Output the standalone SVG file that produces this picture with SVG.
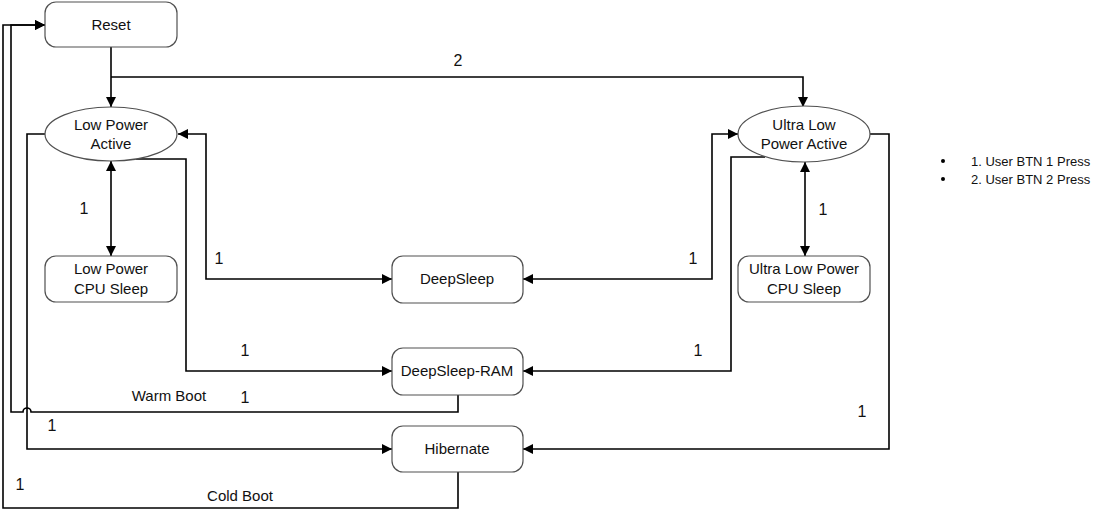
<svg xmlns="http://www.w3.org/2000/svg" width="1097" height="514" viewBox="0 0 1097 514">
<defs>
<style>
.node{fill:#fff;stroke:#505050;stroke-width:1.2}
.t{font-family:"Liberation Sans",Arial,sans-serif;font-size:15px;fill:#111;text-anchor:middle}
.lbl{font-family:"Liberation Sans",Arial,sans-serif;font-size:16px;fill:#111;text-anchor:middle}
.leg{font-family:"Liberation Sans",Arial,sans-serif;font-size:13px;fill:#111}
.c{fill:none;stroke:#000;stroke-width:1.6}
</style>
<marker id="arr" viewBox="0 0 10 10" refX="10" refY="5" markerWidth="11" markerHeight="10" markerUnits="userSpaceOnUse" orient="auto-start-reverse">
<path d="M0,0 L10,5 L0,10 z" fill="#000"/>
</marker>
</defs>
<rect width="1097" height="514" fill="#fff"/>
<g id="connectors">
<path class="c" d="M111,47 V107" marker-end="url(#arr)"/>
<path class="c" d="M111,77 H803 V107" marker-end="url(#arr)"/>
<path class="c" d="M111,161 V256" marker-start="url(#arr)" marker-end="url(#arr)"/>
<path class="c" d="M805,162 V256" marker-start="url(#arr)" marker-end="url(#arr)"/>
<path class="c" d="M178,134 H206 V279 H392" marker-start="url(#arr)" marker-end="url(#arr)"/>
<path class="c" d="M523,279 H712 V134 H738" marker-start="url(#arr)" marker-end="url(#arr)"/>
<path class="c" d="M136,159 H186 V371 H392" marker-end="url(#arr)"/>
<path class="c" d="M765,157 H731 V371 H523" marker-end="url(#arr)"/>
<path class="c" d="M45,134 H27 V449 H392" marker-end="url(#arr)"/>
<path class="c" d="M870,134 H889 V449 H523" marker-end="url(#arr)"/>
<path class="c" d="M458,395 V412 H31 A4,4 0 0 0 23,412 H11 V25 H45" marker-end="url(#arr)"/>
<path class="c" d="M458,472 V508 H3 V25 H45" marker-end="url(#arr)"/>
<text class="lbl" x="458" y="66">2</text>
<text class="lbl" x="84" y="214">1</text>
<text class="lbl" x="823" y="215">1</text>
<text class="lbl" x="219" y="264">1</text>
<text class="lbl" x="693" y="264">1</text>
<text class="lbl" x="245" y="356">1</text>
<text class="lbl" x="698" y="356">1</text>
<text class="lbl" x="245" y="403">1</text>
<text class="lbl" x="52" y="431">1</text>
<text class="lbl" x="862" y="417">1</text>
<text class="lbl" x="20" y="490">1</text>
<text class="t" x="169" y="401">Warm Boot</text>
<text class="t" x="240" y="501">Cold Boot</text>
</g>
<g id="reset">
<rect class="node" x="45" y="2" width="132" height="45" rx="11"/>
<text class="t" x="111" y="30">Reset</text>
</g>
<g id="lp-active">
<ellipse class="node" cx="111" cy="134" rx="66" ry="27"/>
<text class="t" x="111" y="130">Low Power</text>
<text class="t" x="111" y="149">Active</text>
</g>
<g id="ulp-active">
<ellipse class="node" cx="804" cy="134" rx="66" ry="28"/>
<text class="t" x="804" y="130">Ultra Low</text>
<text class="t" x="804" y="149">Power Active</text>
</g>
<g id="lp-cpu-sleep">
<rect class="node" x="45" y="256" width="132" height="46" rx="11"/>
<text class="t" x="111" y="274">Low Power</text>
<text class="t" x="111" y="294">CPU Sleep</text>
</g>
<g id="ulp-cpu-sleep">
<rect class="node" x="738" y="256" width="132" height="46" rx="11"/>
<text class="t" x="804" y="274">Ultra Low Power</text>
<text class="t" x="804" y="294">CPU Sleep</text>
</g>
<g id="deepsleep">
<rect class="node" x="392" y="256" width="131" height="47" rx="11"/>
<text class="t" x="457" y="284">DeepSleep</text>
</g>
<g id="deepsleep-ram">
<rect class="node" x="392" y="348" width="131" height="47" rx="11"/>
<text class="t" x="457" y="376">DeepSleep-RAM</text>
</g>
<g id="hibernate">
<rect class="node" x="392" y="426" width="131" height="46" rx="11"/>
<text class="t" x="457" y="454">Hibernate</text>
</g>
<g id="legend">
<circle cx="943" cy="161" r="2" fill="#000"/>
<circle cx="943" cy="179" r="2" fill="#000"/>
<text class="leg" x="971" y="166">1. User BTN 1 Press</text>
<text class="leg" x="971" y="184">2. User BTN 2 Press</text>
</g>
</svg>
